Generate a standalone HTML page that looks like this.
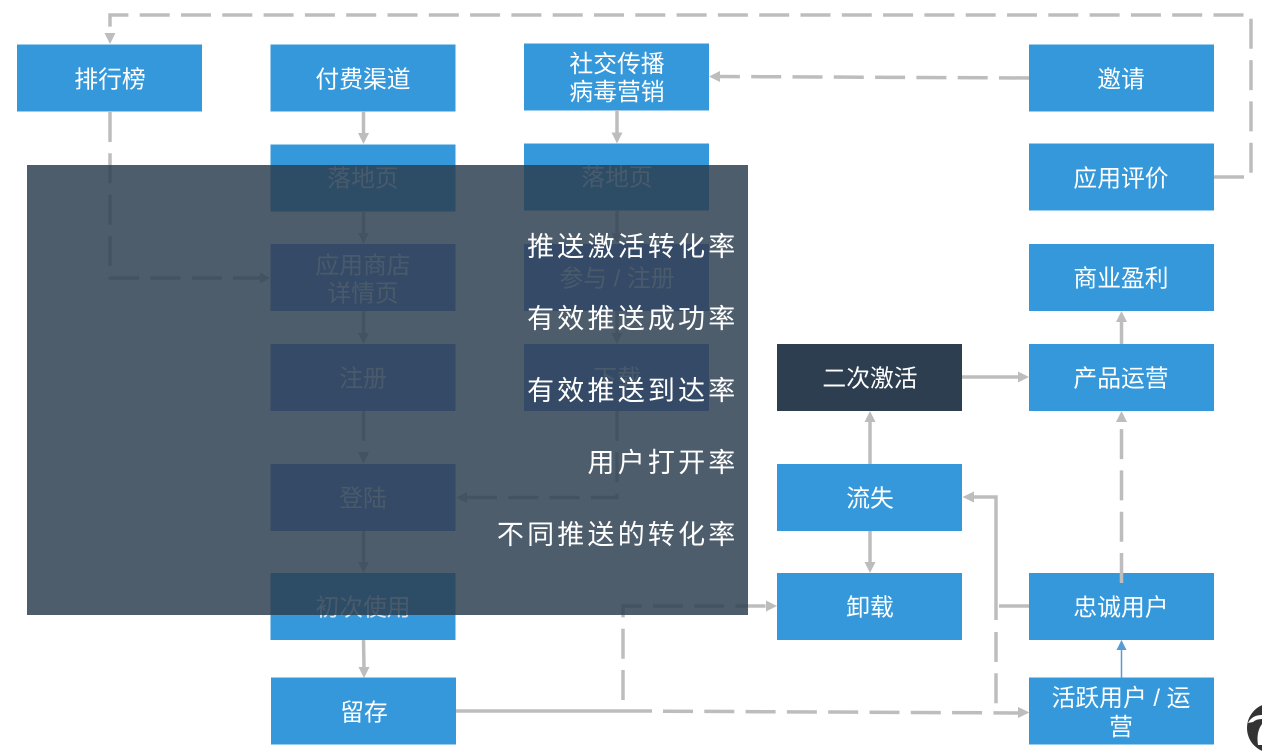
<!DOCTYPE html>
<html lang="zh"><head><meta charset="utf-8"><style>
html,body{margin:0;padding:0;background:#fff;width:1262px;height:751px;overflow:hidden}
svg{display:block}
text{font-family:"Liberation Sans","Noto Sans CJK SC",sans-serif;font-size:23.8px;fill:#fff;text-anchor:middle}
.b{fill:#3498db}
.c{fill:#5d8cdb}
.t text{fill-opacity:.8}
.l{fill:none;stroke:#bdbdbd;stroke-width:3.5}
.d{stroke-dasharray:30 11.3}
.a{fill:#bdbdbd}
.o text{font-size:27px;letter-spacing:3.2px;text-anchor:end;fill-opacity:1}
</style></head><body>
<svg width="1262" height="751" viewBox="0 0 1262 751" xmlns="http://www.w3.org/2000/svg">
<rect class="b" x="17" y="44.5" width="185" height="67"/>
<rect class="b" x="270.5" y="44.5" width="185" height="67"/>
<rect class="b" x="270.5" y="144.5" width="185" height="67"/>
<rect class="c" x="270.5" y="244" width="185" height="67"/>
<rect class="c" x="270.5" y="344" width="185" height="67"/>
<rect class="c" x="270.5" y="464" width="185" height="67"/>
<rect class="b" x="270.5" y="573" width="185" height="67"/>
<rect class="b" x="271" y="677.5" width="185" height="67"/>
<rect class="b" x="524" y="43.5" width="185" height="67"/>
<rect class="b" x="524" y="143.5" width="185" height="67"/>
<rect class="c" x="524" y="244" width="185" height="67"/>
<rect class="c" x="524" y="344" width="185" height="67"/>
<rect class="b" x="1029" y="44.5" width="185" height="67"/>
<rect class="b" x="1029" y="143.5" width="185" height="67"/>
<rect class="b" x="1029" y="244" width="185" height="67"/>
<rect class="b" x="1029" y="344" width="185" height="67"/>
<rect x="777" y="344" width="185" height="67" fill="#2c3e50"/>
<rect class="b" x="777" y="464" width="185" height="67"/>
<rect class="b" x="777" y="573" width="185" height="67"/>
<rect class="b" x="1029" y="573" width="185" height="67"/>
<rect class="b" x="1029" y="677.5" width="185" height="67"/>

<text x="110" y="87.500">排行榜</text>
<text x="363" y="87.500">付费渠道</text>
<text x="1121" y="87.500">邀请</text>
<text x="617" y="72">社交传播</text>
<text x="617" y="100">病毒营销</text>
<g class="t">
<text x="363" y="186.500">落地页</text>
<text x="363" y="273.500">应用商店</text>
<text x="363" y="301.500">详情页</text>
<text x="363" y="386.500">注册</text>
<text x="363" y="506.500">登陆</text>
<text x="363" y="615.500">初次使用</text>
<text x="617" y="185.500">落地页</text>
<text x="617" y="286.500">参与 / 注册</text>
<text x="617" y="386.500">下载</text>
</g>
<text x="364" y="720.500">留存</text>
<text x="1121" y="186.500">应用评价</text>
<text x="1121" y="286.500">商业盈利</text>
<text x="1121" y="386.500">产品运营</text>
<text x="870" y="386.500">二次激活</text>
<text x="870" y="506.500">流失</text>
<text x="870" y="615.500">卸载</text>
<text x="1121" y="615.500">忠诚用户</text>
<text x="1121" y="706">活跃用户 / 运</text>
<text x="1121" y="735">营</text>

<path class="l d" d="M1214,177H1251V15H110V33"/>
<polygon class="a" points="110,44 104.5,33 115.5,33"/>
<path class="l d" d="M110,112V278H261"/>
<polygon class="a" points="270,278 260,272.5 260,283.5"/>
<path class="l" d="M363.5,111V134M363.5,211V234M363.5,311V334M363.5,531V563M363.5,640L364,668M617,110V133M617,211V234M617,311V334M870,531V563M870,464V421"/>
<polygon class="a" points="363.5,144 358,133 369,133"/>
<polygon class="a" points="363.5,244 358,233 369,233"/>
<polygon class="a" points="363.5,344 358,333 369,333"/>
<polygon class="a" points="363.5,573 358,562 369,562"/>
<polygon class="a" points="364,678 358.5,667 369.5,667"/>
<polygon class="a" points="617,143.5 611.5,132.5 622.5,132.5"/>
<polygon class="a" points="617,244 611.5,233 622.5,233"/>
<polygon class="a" points="617,344 611.5,333 622.5,333"/>
<polygon class="a" points="870,573 864.5,562 875.5,562"/>
<polygon class="a" points="870,411 864.5,422 875.5,422"/>
<path class="l d" d="M363.5,411V452"/>
<polygon class="a" points="363.5,464 358,452 369,452"/>
<path class="l d" d="M617,411V497.500H466"/>
<polygon class="a" points="456,497.500 467,492 467,503"/>
<path class="l d" d="M1029,78L718,76.500"/>
<polygon class="a" points="709,76.500 720,71 720,82"/>
<path class="l" d="M962,377H1019"/>
<polygon class="a" points="1029,377 1018,371.500 1018,382.500"/>
<path class="l" d="M1121.500,344V321"/>
<polygon class="a" points="1121.500,311 1116,322 1127,322"/>
<path class="l d" d="M1121.500,583V422"/>
<polygon class="a" points="1121.500,411 1116,422 1127,422"/>
<path class="l" d="M996,620V497H972M1029,606H999"/>
<polygon class="a" points="962.500,497 974,491.500 974,502.500"/>
<path class="l d" d="M996,632V712"/>
<path class="l" d="M456,711H652"/>
<path class="l d" d="M663,711.200L1020,713"/>
<polygon class="a" points="1029.500,712.500 1018,707 1018,718"/>
<path class="l d" d="M623,700V606H768"/>
<polygon class="a" points="777,606 766,600.500 766,611.500"/>
<path d="M1121.500,678V650" fill="none" stroke="#5b9bd5" stroke-width="1.500"/>
<polygon points="1121.500,640 1116.500,650 1126.500,650" fill="#5b9bd5"/>

<circle cx="1272" cy="728" r="25" fill="#333"/>
<path d="M1248,723Q1252,715 1262,715V719Q1256,719 1253,722Z" fill="#fff"/>
<path d="M1258,745Q1256,732 1262,724V745Z" fill="#fff"/>

<g class="o">
<rect x="27" y="165" width="721" height="450" fill="#2c3e50" fill-opacity=".84"/>
<text x="738.500" y="256">推送激活转化率</text>
<text x="738.500" y="328">有效推送成功率</text>
<text x="738.500" y="400">有效推送到达率</text>
<text x="738.500" y="472">用户打开率</text>
<text x="738.500" y="544">不同推送的转化率</text>
</g>
</svg>
</body></html>
